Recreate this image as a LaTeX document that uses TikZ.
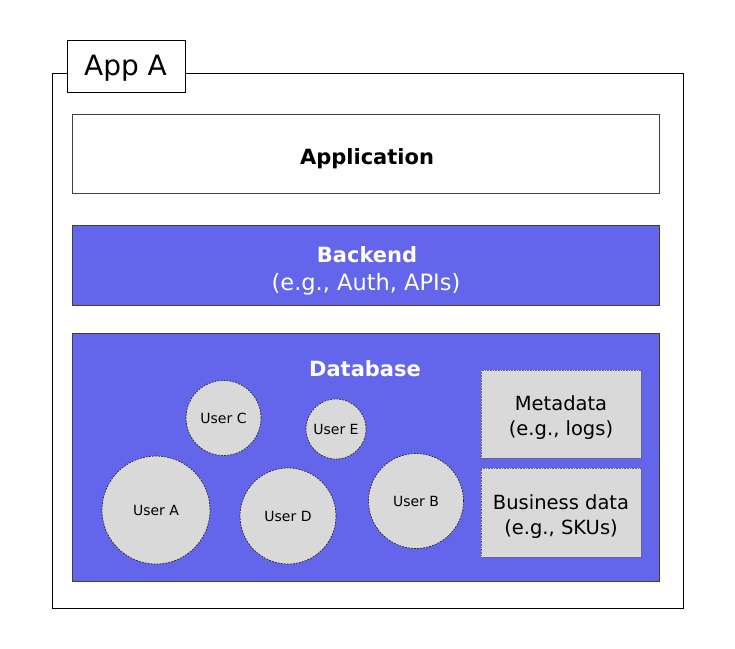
\documentclass[tikz,border=0pt]{standalone}
\usepackage{fontspec}
\setmainfont{DejaVu Sans}
\definecolor{indig}{RGB}{99,102,235}
\definecolor{lgray}{RGB}{217,217,217}
\begin{document}
\begin{tikzpicture}[x=1pt,y=-1pt,
  layer/.style={draw=black!75,line width=0.6pt,anchor=north west,inner sep=0pt},
  usr/.style={circle,draw=black!85,fill=lgray,line width=0.7pt,dash pattern=on 1.8pt off 1.2pt,inner sep=0pt,font=\fontsize{14}{16}\selectfont},
  gbox/.style={rectangle,draw=black!60,fill=lgray,line width=0.6pt,dash pattern=on 0.8pt off 0.8pt,inner sep=0pt,align=center,font=\fontsize{19.5}{24.5}\selectfont},
  wtext/.style={text=white,font=\fontsize{22.5}{24}\selectfont}]
\useasboundingbox (0,0) rectangle (735,648);
% outer frame
\node[draw=black,line width=1.3pt,minimum width=631pt,minimum height=535pt,anchor=north west,inner sep=0pt] (frame) at (52,73) {};
\node[draw=black,line width=1.3pt,fill=white,minimum width=118pt,minimum height=52pt,anchor=north west,inner sep=0pt] (tab) at (67,40) {};
\node[font=\fontsize{28}{32}\selectfont] (tabt) at (125.5,68.5) {App A};
% layers
\node[layer,fill=white,minimum width=587pt,minimum height=79pt] (app) at (72,114) {};
\node[font=\bfseries\fontsize{21}{24}\selectfont] (apptext) at (367,159) {Application};
\node[layer,fill=indig,minimum width=587pt,minimum height=80pt] (backend) at (72,225) {};
\node[wtext,font=\bfseries\fontsize{21}{24}\selectfont] (bt1) at (367,254.5) {Backend};
\node[wtext] (bt2) at (366,284) {(e.g., Auth, APIs)};
\node[layer,fill=indig,minimum width=587pt,minimum height=248pt] (db) at (72,333) {};
\node[wtext,font=\bfseries\fontsize{21}{24}\selectfont] (dbt) at (365,368.5) {Database};
% users
\node[usr,minimum size=75pt] (uc) at (223.5,418) {User C};
\node[usr,minimum size=60pt] (ue) at (336,429) {User E};
\node[usr,minimum size=108pt] (ua) at (156,510) {User A};
\node[usr,minimum size=96pt] (ud) at (288,516) {User D};
\node[usr,minimum size=95pt] (ub) at (416,501) {User B};
% data boxes
\node[gbox,minimum width=160pt,minimum height=88pt] (meta) at (561,414) {};
\node[font=\fontsize{19.5}{24.5}\selectfont,align=center] (metat) at (561,417.5) {Metadata\\(e.g., logs)};
\node[gbox,minimum width=160pt,minimum height=89pt] (biz) at (561,512.5) {};
\node[font=\fontsize{19.5}{24.5}\selectfont,align=center] (bizt) at (561,516.5) {Business data\\(e.g., SKUs)};
\end{tikzpicture}
\end{document}
